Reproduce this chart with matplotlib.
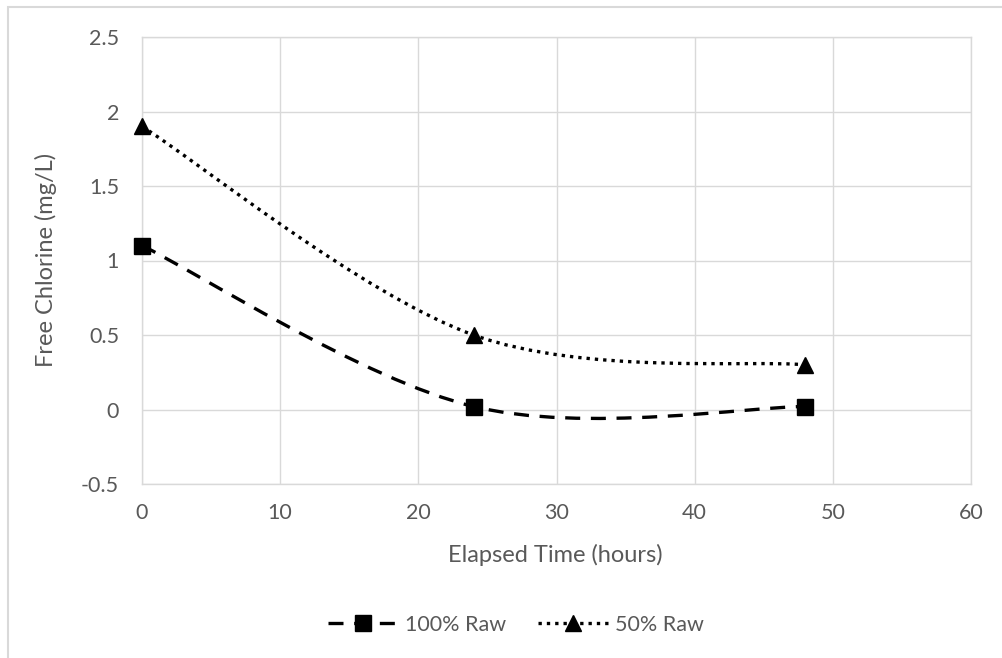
import matplotlib
matplotlib.use("Agg")
import matplotlib.pyplot as plt
from matplotlib.path import Path
from matplotlib.patches import PathPatch, Rectangle
from matplotlib.lines import Line2D
import numpy as np

plt.rcParams['font.family'] = ['Lato', 'DejaVu Sans']
plt.rcParams['axes.unicode_minus'] = False

hours = [0, 24, 48]
raw100 = [1.1, 0.02, 0.02]
raw50 = [1.9, 0.5, 0.3]
series_names = ["100% Raw", "50% Raw"]
xticks = [0, 10, 20, 30, 40, 50, 60]
yticks = [-0.5, 0, 0.5, 1, 1.5, 2, 2.5]

W, H = 1002, 658
fig = plt.figure(figsize=(W / 100, H / 100), dpi=100)
# outer chart border (cropped at right/bottom)
fig.patches.append(Rectangle((8 / W, -0.1), 1.2, 1 - 7 / H + 0.1, transform=fig.transFigure,
                             fill=False, edgecolor='#d9d9d9', lw=1.5))

l, t, r, b = 142, 37, 971, 484
ax = fig.add_axes([l / W, 1 - b / H, (r - l) / W, (b - t) / H])
ax.set_xlim(0, 60)
ax.set_ylim(-0.5, 2.5)
ax.set_xticks(xticks)
ax.set_yticks(yticks)
ax.set_xticklabels([f"{v:g}" for v in xticks])
ax.set_yticklabels([f"{v:g}" for v in yticks])
ax.grid(True, color='#d9d9d9', lw=1.0)
ax.set_axisbelow(True)
for s in ax.spines.values():
    s.set_color('#d9d9d9')
    s.set_linewidth(1.0)
ax.tick_params(length=0, labelsize=15.5, colors='#595959')
ax.tick_params(axis='y', pad=16.5)
ax.tick_params(axis='x', pad=14)

def smooth_path(xs, ys):
    pts = np.column_stack([xs, ys]).astype(float)
    n = len(pts)
    verts = [pts[0]]
    codes = [Path.MOVETO]
    for i in range(n - 1):
        p0 = pts[max(i - 1, 0)]
        p1 = pts[i]
        p2 = pts[i + 1]
        p3 = pts[min(i + 2, n - 1)]
        c1 = p1 + (p2 - p0) / 6.0
        c2 = p2 - (p3 - p1) / 6.0
        verts += [c1, c2, p2]
        codes += [Path.CURVE4] * 3
    return Path(verts, codes)

styles = [
    dict(y=raw100, marker='s', ls=(0, (4.5, 3.2)), capstyle='butt'),
    dict(y=raw50, marker='^', ls=(0, (1, 1.5)), capstyle='butt'),
]
handles = []
for name, st in zip(series_names, styles):
    patch = PathPatch(smooth_path(hours, st['y']), fill=False, edgecolor='black',
                      lw=2.4, linestyle=st['ls'], capstyle=st['capstyle'], zorder=3)
    ax.add_patch(patch)
    ax.plot(hours, st['y'], linestyle='none', marker=st['marker'], markersize=11,
            color='black', zorder=4, clip_on=False)
    handles.append(Line2D([], [], color='black', lw=2.4, linestyle=st['ls'],
                          marker=st['marker'], markersize=11, label=name))

fig.text(46 / W, 1 - 260 / H, "Free Chlorine (mg/L)", rotation=90, ha='center', va='center',
         fontsize=17, color='#595959')
fig.text(555 / W, 1 - 555 / H, "Elapsed Time (hours)", ha='center', va='center',
         fontsize=17, color='#595959')

leg = fig.legend(handles=handles, loc='center', bbox_to_anchor=(516 / W, 1 - 625 / H),
                 ncol=2, frameon=False, fontsize=15.5, handlelength=3.25, handletextpad=0.33,
                 columnspacing=1.5, labelcolor='#595959')

fig.savefig("out.png", dpi=100)
